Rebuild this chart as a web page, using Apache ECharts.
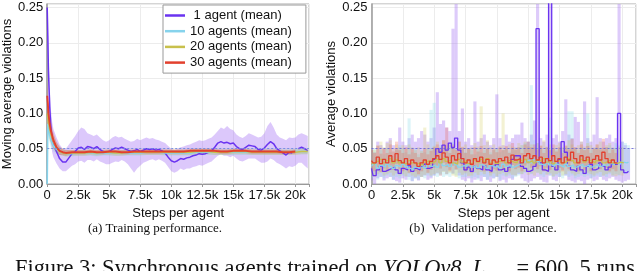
<!DOCTYPE html>
<html><head><meta charset="utf-8">
<script src="https://cdn.jsdelivr.net/npm/echarts@6/dist/echarts.min.js"></script>
<style>html,body{margin:0;padding:0;background:#fff}#c{width:640px;height:271px}</style>
</head><body><div id="c"></div>
<script>
// ---------- Legend / series names ----------
const seriesNames = ['1 agent (mean)', '10 agents (mean)', '20 agents (mean)', '30 agents (mean)'];

// ---------- (a) Training: 1 agent ----------
const tSteps1 = [0,50,100,200,300,400,500,
750,1000,1250,1500,1750,2000,2250,2500,2750,3000,
3250,3500,3750,4000,4250,4500,4750,5000,5250,5500,
5750,6000,6250,6500,6750,7000,7250,7500,7750,8000,
8250,8500,8750,9000,9250,9500,9750,10000,10250,10500,
10750,11000,11250,11500,11750,12000,12250,12500,12750,13000,
13250,13500,13750,14000,14250,14500,14750,15000,15250,15500,
15750,16000,16250,16500,16750,17000,17250,17500,17750,18000,
18250,18500,18750,19000,19250,19500,19750,20000,20250,20500,
20750,21000];
const tMean1 = [0.25,0.21,0.16,0.11,0.08,0.065,0.057,
0.046,0.036,0.031,0.031,0.037,0.043,0.046,0.051,0.052,0.049,
0.053,0.052,0.05,0.053,0.049,0.046,0.045,0.046,0.049,0.051,
0.05,0.052,0.05,0.048,0.046,0.047,0.049,0.046,0.048,0.05,
0.049,0.05,0.048,0.049,0.047,0.044,0.038,0.033,0.031,0.033,
0.036,0.035,0.037,0.038,0.04,0.041,0.043,0.042,0.043,0.045,
0.047,0.052,0.058,0.06,0.058,0.059,0.057,0.058,0.053,0.05,
0.049,0.052,0.055,0.054,0.053,0.049,0.048,0.051,0.056,0.06,
0.057,0.05,0.047,0.044,0.041,0.045,0.044,null,0.05,0.052,
0.05,0.047];
const tHi1 = [0.25,0.23,0.19,0.14,0.105,0.088,0.078,
0.066,0.056,0.05,0.05,0.056,0.062,0.068,0.075,0.08,0.078,
0.072,0.07,0.068,0.07,0.066,0.062,0.06,0.062,0.066,0.068,
0.066,0.067,0.064,0.062,0.06,0.061,0.064,0.062,0.064,0.066,
0.064,0.065,0.063,0.062,0.06,0.058,0.054,0.05,0.048,0.05,
0.052,0.053,0.055,0.056,0.058,0.06,0.062,0.061,0.062,0.064,
0.066,0.07,0.075,0.08,0.078,0.082,0.078,0.076,0.07,0.067,
0.065,0.068,0.072,0.07,0.068,0.066,0.067,0.072,0.082,0.088,
0.08,0.07,0.066,0.064,0.062,0.066,0.065,0.066,0.07,0.072,
0.07,0.068];
const tLo1 = [0.2,0.18,0.13,0.085,0.058,0.045,0.038,
0.029,0.022,0.018,0.018,0.022,0.026,0.028,0.032,0.033,0.03,
0.034,0.034,0.032,0.035,0.032,0.03,0.028,0.028,0.03,0.032,
0.031,0.034,0.032,0.028,0.022,0.016,0.022,0.026,0.03,0.032,
0.034,0.035,0.033,0.035,0.033,0.03,0.024,0.018,0.016,0.018,
0.022,0.02,0.022,0.022,0.024,0.025,0.027,0.026,0.028,0.03,
0.032,0.036,0.04,0.042,0.04,0.04,0.038,0.04,0.036,0.033,
0.032,0.034,0.036,0.036,0.036,0.033,0.03,0.03,0.032,0.036,
0.034,0.03,0.028,0.025,0.022,0.025,0.024,0.026,0.03,0.03,
0.026,0.022];

// ---------- (a) Training: 10 / 20 / 30 agents ----------
const tStepsB = [0,50,100,200,300,500,750,1000,1250,1500,
2000,2500,3000,3500,4000,4500,5000,5500,6000,6500,
7000,7500,8000,8500,9000,9500,10000,10500,11000,11500,
12000,12500,13000,13500,14000,14500,15000,15500,16000,16500,
17000,17500,18000,18500,19000,19500,20000,20500,21000];
const tMean10 = [0.0,0.085,0.08,0.07,0.062,0.054,0.049,0.046,0.044,0.043,
0.043,0.044,0.044,0.044,0.043,0.044,0.044,0.044,0.044,0.044,
0.044,0.044,0.045,0.045,0.045,0.044,0.044,0.044,0.044,0.044,
0.045,0.045,0.045,0.045,0.045,0.045,0.045,0.045,0.045,0.045,
0.045,0.045,0.045,0.045,0.045,0.045,0.046,0.046,0.046];
const tHi10 = [0.0,0.1,0.095,0.082,0.072,0.062,0.055,0.051,0.049,0.048,
0.047,0.048,0.048,0.048,0.047,0.048,0.048,0.048,0.048,0.048,
0.048,0.048,0.049,0.049,0.049,0.048,0.048,0.048,0.048,0.048,
0.049,0.049,0.049,0.049,0.049,0.049,0.049,0.049,0.049,0.049,
0.049,0.049,0.049,0.049,0.049,0.049,0.05,0.05,0.05];
const tLo10 = [0.0,0.07,0.066,0.058,0.052,0.046,0.043,0.041,0.04,0.039,
0.039,0.04,0.04,0.04,0.039,0.04,0.04,0.04,0.04,0.04,
0.04,0.04,0.041,0.041,0.041,0.04,0.04,0.04,0.04,0.04,
0.041,0.041,0.041,0.041,0.041,0.041,0.041,0.041,0.041,0.041,
0.041,0.041,0.041,0.041,0.041,0.041,0.042,0.042,0.042];
const tMean20 = [0.1,0.095,0.088,0.078,0.07,0.06,0.051,0.046,0.044,0.043,
0.044,0.044,0.044,0.045,0.044,0.045,0.045,0.044,0.044,0.045,
0.045,0.045,0.045,0.045,0.045,0.045,0.045,0.045,0.045,0.045,
0.046,0.046,0.046,0.045,0.045,0.045,0.046,0.046,0.046,0.045,
0.045,0.045,0.045,0.045,0.045,0.045,0.045,0.046,0.046];
const tHi20 = [0.125,0.118,0.108,0.094,0.083,0.07,0.059,0.052,0.049,0.048,
0.048,0.048,0.048,0.049,0.048,0.049,0.049,0.048,0.048,0.049,
0.049,0.049,0.049,0.049,0.049,0.049,0.049,0.049,0.049,0.049,
0.05,0.05,0.05,0.049,0.049,0.049,0.05,0.05,0.05,0.049,
0.049,0.049,0.049,0.049,0.049,0.049,0.049,0.05,0.05];
const tLo20 = [0.075,0.072,0.068,0.062,0.057,0.05,0.044,0.041,0.04,0.039,
0.04,0.04,0.04,0.041,0.04,0.041,0.041,0.04,0.04,0.041,
0.041,0.041,0.041,0.041,0.041,0.041,0.041,0.041,0.041,0.041,
0.042,0.042,0.042,0.041,0.041,0.041,0.042,0.042,0.042,0.041,
0.041,0.041,0.041,0.041,0.041,0.041,0.041,0.042,0.042];
const tMean30 = [0.125,0.115,0.1,0.085,0.075,0.062,0.052,0.047,0.045,0.044,
0.045,0.045,0.045,0.046,0.045,0.045,0.046,0.046,0.045,0.045,
0.046,0.046,0.046,0.046,0.046,0.046,0.046,0.046,0.046,0.047,
0.047,0.047,0.047,0.047,0.046,0.046,0.047,0.047,0.047,0.046,
0.046,0.046,0.046,0.046,0.045,0.045,0.046,null,null];
const tHi30 = [0.145,0.135,0.118,0.1,0.088,0.073,0.06,0.053,0.05,0.048,
0.048,0.048,0.048,0.049,0.048,0.048,0.049,0.049,0.048,0.048,
0.049,0.049,0.049,0.049,0.049,0.049,0.049,0.049,0.049,0.05,
0.05,0.05,0.05,0.05,0.049,0.049,0.05,0.05,0.05,0.049,
0.049,0.049,0.049,0.049,0.048,0.048,0.049,null,null];
const tLo30 = [0.1,0.092,0.082,0.07,0.062,0.051,0.044,0.041,0.041,0.04,
0.042,0.042,0.042,0.043,0.042,0.042,0.043,0.043,0.042,0.042,
0.043,0.043,0.043,0.043,0.043,0.043,0.043,0.043,0.043,0.044,
0.044,0.044,0.044,0.044,0.043,0.043,0.044,0.044,0.044,0.043,
0.043,0.043,0.043,0.043,0.042,0.042,0.043,null,null];

// ---------- (b) Validation ----------
const vSteps = [0,250,500,750,1000,1250,1500,1750,2000,2250,
2500,2750,3000,3250,3500,3750,4000,4250,4500,4750,
5000,5250,5500,5750,6000,6250,6500,6750,7000,7250,
7500,7750,8000,8250,8500,8750,9000,9250,9500,9750,
10000,10250,10500,10750,11000,11250,11500,11750,12000,12250,
12500,12750,13000,13250,13500,13750,14000,14250,14500,14750,
15000,15250,15500,15750,16000,16250,16500,16750,17000,17250,
17500,17750,18000,18250,18500,18750,19000,19250,19500,19750,
20000,20250,20500];
const vMean1 = [0.022,0.012,0.02,0.025,0.018,0.02,0.022,0.024,0.02,0.015,
0.022,0.02,0.026,0.018,0.022,0.02,0.025,0.028,0.022,0.024,
0.035,0.05,0.045,0.055,0.048,0.058,0.052,0.065,0.048,0.03,
0.02,0.024,0.018,0.025,0.022,0.02,0.026,0.02,0.018,0.025,
0.028,0.02,0.022,0.018,0.024,0.035,0.04,0.04,0.025,0.022,
0.018,0.02,0.025,0.22,0.03,0.02,0.018,0.4,0.025,0.02,
0.035,0.06,0.045,0.025,0.02,0.018,0.025,0.02,0.015,0.025,
0.028,0.02,0.022,0.03,0.025,0.02,0.024,0.028,0.028,0.1,
0.02,0.016,0.018];
const vHi1 = [0.05,0.045,0.06,0.055,0.05,0.06,0.065,0.055,0.05,0.08,
0.06,0.055,0.065,0.07,0.06,0.065,0.075,0.07,0.06,0.065,
0.08,0.13,0.085,0.09,0.08,0.075,0.22,0.4,0.075,0.107,
0.06,0.065,0.055,0.117,0.06,0.065,0.07,0.06,0.055,0.065,
0.127,0.065,0.055,0.07,0.06,0.065,0.07,0.07,0.087,0.065,
0.06,0.07,0.09,0.4,0.065,0.06,0.07,0.4,0.065,0.07,
0.06,0.075,0.12,0.07,0.065,0.095,0.088,0.06,0.117,0.065,
0.06,0.07,0.123,0.065,0.06,0.065,0.07,0.06,0.065,0.4,
0.06,0.055,0.05];
const vLo1 = [0.005,0.0,0.008,0.01,0.005,0.008,0.01,0.006,0.004,0.002,
0.008,0.006,0.01,0.004,0.008,0.005,0.01,0.012,0.006,0.008,
0.012,0.015,0.012,0.018,0.014,0.02,0.015,0.02,0.012,0.006,
0.004,0.008,0.002,0.006,0.008,0.004,0.01,0.006,0.003,0.008,
0.01,0.004,0.006,0.002,0.008,0.006,0.012,0.014,0.008,0.004,
0.002,0.004,0.008,0.01,0.006,0.003,0.002,0.012,0.006,0.004,
0.01,0.02,0.012,0.006,0.004,0.002,0.006,0.004,0.0,0.006,
0.008,0.004,0.006,0.01,0.006,0.004,0.008,0.01,0.006,0.004,
0.002,0.004,0.006];
const vMean10 = [0.025,0.028,0.022,0.026,0.024,0.028,0.025,0.022,0.026,0.024,
0.028,0.025,0.022,0.02,0.024,0.022,0.026,0.023,0.028,0.025,
0.027,0.024,0.03,0.026,0.028,0.025,0.03,0.027,0.024,0.026,
0.025,0.028,0.024,0.026,0.023,0.027,0.025,0.022,0.026,0.024,
0.026,0.023,0.028,0.025,0.027,0.024,0.026,0.028,0.03,0.032,
0.034,0.03,0.035,0.032,0.028,0.026,0.03,0.027,0.025,0.028,
0.026,0.024,0.028,0.025,0.027,0.024,0.026,0.028,0.025,0.027,
0.024,0.026,0.028,0.025,0.027,0.026,0.029,0.027,0.03,0.028,
0.031,0.03,0.031];
const vHi10 = [0.045,0.05,0.04,0.048,0.042,0.05,0.045,0.04,0.048,0.055,
0.05,0.045,0.093,0.045,0.05,0.042,0.048,0.045,0.05,0.105,
0.115,0.05,0.055,0.048,0.05,0.055,0.06,0.05,0.045,0.05,
0.045,0.05,0.048,0.042,0.05,0.045,0.048,0.05,0.045,0.048,
0.05,0.045,0.048,0.05,0.046,0.05,0.048,0.052,0.055,0.058,
0.06,0.14,0.062,0.058,0.05,0.048,0.052,0.094,0.05,0.048,
0.05,0.048,0.052,0.103,0.103,0.05,0.048,0.052,0.05,0.1,
0.048,0.05,0.052,0.05,0.048,0.052,0.055,0.05,0.058,0.055,
0.06,0.058,0.055];
const vLo10 = [0.008,0.012,0.006,0.01,0.008,0.012,0.01,0.006,0.01,0.008,
0.012,0.01,0.006,0.004,0.008,0.006,0.01,0.008,0.012,0.01,
0.012,0.01,0.014,0.01,0.012,0.01,0.014,0.012,0.008,0.01,
0.01,0.012,0.008,0.01,0.006,0.012,0.01,0.006,0.01,0.008,
0.01,0.006,0.012,0.01,0.012,0.008,0.01,0.012,0.014,0.016,
0.018,0.014,0.018,0.016,0.012,0.01,0.014,0.012,0.01,0.012,
0.01,0.008,0.012,0.01,0.012,0.008,0.01,0.012,0.01,0.012,
0.008,0.01,0.012,0.01,0.012,0.01,0.014,0.012,0.014,0.012,
0.016,0.014,0.016];
const vMean20 = [0.03,0.028,0.032,0.035,0.03,0.033,0.036,0.03,0.034,0.03,
0.032,0.029,0.033,0.03,0.028,0.03,0.027,0.031,0.033,0.03,
0.032,0.035,0.03,0.036,0.032,0.034,0.03,0.028,0.035,0.031,
0.033,0.029,0.03,0.034,0.031,0.035,0.032,0.036,0.03,0.033,
0.029,0.032,0.034,0.03,0.033,0.031,0.03,0.034,0.032,0.035,
0.031,0.033,0.03,0.034,0.032,0.036,0.031,0.033,0.029,0.032,
0.034,0.03,0.032,0.036,0.033,0.03,0.032,0.035,0.031,0.034,
0.032,0.03,0.033,0.035,0.03,0.032,0.034,0.03,0.029,0.031,
0.03,null,null];
const vHi20 = [0.05,0.048,0.055,0.06,0.052,0.058,0.062,0.05,0.056,0.052,
0.055,0.05,0.056,0.052,0.048,0.052,0.047,0.08,0.056,0.05,
0.054,0.06,0.052,0.062,0.055,0.058,0.052,0.048,0.06,0.053,
0.056,0.05,0.052,0.058,0.053,0.11,0.055,0.062,0.052,0.056,
0.05,0.054,0.1,0.052,0.056,0.053,0.052,0.058,0.055,0.06,
0.053,0.056,0.052,0.058,0.055,0.062,0.053,0.056,0.05,0.055,
0.058,0.052,0.055,0.062,0.056,0.052,0.055,0.06,0.053,0.058,
0.055,0.052,0.056,0.06,0.052,0.055,0.058,0.052,0.05,0.053,
0.052,null,null];
const vLo20 = [0.012,0.01,0.014,0.016,0.012,0.014,0.016,0.012,0.015,0.012,
0.014,0.011,0.015,0.012,0.01,0.012,0.01,0.013,0.015,0.012,
0.014,0.016,0.012,0.017,0.014,0.016,0.012,0.01,0.016,0.013,
0.015,0.011,0.012,0.016,0.013,0.017,0.014,0.018,0.012,0.015,
0.011,0.014,0.016,0.012,0.015,0.013,0.012,0.016,0.014,0.017,
0.013,0.015,0.012,0.016,0.014,0.018,0.013,0.015,0.011,0.014,
0.016,0.012,0.014,0.018,0.015,0.012,0.014,0.017,0.013,0.016,
0.014,0.012,0.015,0.017,0.012,0.014,0.016,0.012,0.011,0.013,
0.012,null,null];
const vMean30 = [0.033,0.03,0.038,0.029,0.035,0.03,0.04,0.032,0.043,0.033,
0.03,0.036,0.028,0.034,0.03,0.025,0.03,0.034,0.028,0.032,
0.036,0.04,0.035,0.044,0.038,0.03,0.04,0.034,0.043,0.036,
0.03,0.034,0.028,0.036,0.032,0.038,0.03,0.035,0.028,0.034,
0.031,0.036,0.033,0.038,0.03,0.041,0.034,0.036,0.03,0.04,
0.043,0.036,0.04,0.034,0.038,0.03,0.036,0.033,0.04,0.032,
0.036,0.03,0.038,0.034,0.045,0.036,0.03,0.04,0.033,0.038,
0.03,0.035,0.04,0.034,0.045,0.036,0.03,0.034,0.03,null,
null,null,null];
const vHi30 = [0.048,0.044,0.054,0.043,0.05,0.044,0.056,0.046,0.06,0.048,
0.044,0.052,0.042,0.05,0.044,0.038,0.044,0.05,0.042,0.047,
0.052,0.056,0.05,0.062,0.08,0.044,0.056,0.049,0.06,0.052,
0.044,0.05,0.042,0.052,0.046,0.054,0.044,0.05,0.042,0.049,
0.045,0.052,0.048,0.054,0.044,0.058,0.049,0.052,0.044,0.056,
0.06,0.052,0.056,0.049,0.054,0.044,0.052,0.048,0.056,0.046,
0.052,0.044,0.054,0.049,0.064,0.052,0.044,0.056,0.048,0.054,
0.044,0.05,0.056,0.049,0.064,0.052,0.044,0.049,0.044,null,
null,null,null];
const vLo30 = [0.02,0.018,0.024,0.017,0.022,0.018,0.026,0.02,0.028,0.021,
0.018,0.023,0.016,0.022,0.018,0.014,0.018,0.022,0.016,0.02,
0.023,0.026,0.022,0.03,0.024,0.018,0.026,0.021,0.029,0.023,
0.018,0.021,0.016,0.023,0.02,0.025,0.018,0.022,0.016,0.021,
0.019,0.023,0.02,0.025,0.018,0.027,0.021,0.023,0.018,0.026,
0.029,0.023,0.026,0.021,0.025,0.018,0.023,0.02,0.026,0.019,
0.023,0.018,0.025,0.021,0.031,0.023,0.018,0.026,0.02,0.025,
0.018,0.022,0.026,0.021,0.031,0.023,0.018,0.021,0.018,null,
null,null,null];

const refLevel = 0.05;

// ---------- styling ----------
const lineColors = ['#6a33f0', '#86d3ec', '#c8c04c', '#e2402e'];
const trainBand = ['rgba(168,118,245,0.40)', 'rgba(134,211,236,0.30)', 'rgba(200,192,76,0.30)', 'rgba(226,64,46,0.25)'];
const valBand = ['rgba(160,110,240,0.36)', 'rgba(130,215,230,0.28)', 'rgba(205,195,70,0.24)', 'rgba(230,90,70,0.26)'];
const FONT = 'Liberation Sans';
const SERIF = 'Liberation Serif';

const pairs = (xs, ys) => xs.map((x, i) => [x, ys[i]]);

function bandRender(xs, lo, hi, color) {
  return function (params, api) {
    if (params.dataIndex !== 0) return null;
    const polys = [];
    let up = [], dn = [];
    for (let i = 0; i < xs.length; i++) {
      if (lo[i] == null || hi[i] == null) {
        if (up.length) polys.push(up.concat(dn.slice().reverse()));
        up = []; dn = [];
        continue;
      }
      up.push(api.coord([xs[i], hi[i]]));
      dn.push(api.coord([xs[i], lo[i]]));
    }
    if (up.length) polys.push(up.concat(dn.slice().reverse()));
    return { type: 'group', children: polys.map(p => ({ type: 'polygon', shape: { points: p }, style: { fill: color } })) };
  };
}
function binRender(color) {
  return function (params, api) {
    const x = api.value(0), lo = api.value(1), hi = api.value(2);
    if (isNaN(lo) || isNaN(hi)) return null;
    const a = api.coord([x - 125, hi]);
    const b = api.coord([x + 125, lo]);
    const cs = params.coordSys;
    const r = echarts.graphic.clipRectByRect(
      { x: a[0], y: a[1], width: b[0] - a[0], height: b[1] - a[1] },
      { x: cs.x, y: cs.y, width: cs.width, height: cs.height });
    return r && { type: 'rect', shape: r, style: { fill: color } };
  };
}

function xAxis(gi) {
  return {
    gridIndex: gi, type: 'value', min: 0, max: 21100, interval: 2500,
    axisLine: { show: true, onZero: false, lineStyle: { color: '#999', width: 1 } },
    axisTick: { show: true, length: 3, lineStyle: { color: '#999' } },
    splitLine: { show: true, lineStyle: { color: '#ececec', width: 1 } },
    axisLabel: { fontSize: 13, color: '#111', fontFamily: FONT, margin: 5,
      formatter: v => (Math.round(v) % 2500 !== 0) ? '' : (v === 0 ? '0' : (v / 1000) + 'k') },
    name: 'Steps per agent', nameLocation: 'middle', nameGap: 20,
    nameTextStyle: { fontSize: 13, color: '#111', fontFamily: FONT }
  };
}
function yAxis(gi, name, gap) {
  return {
    gridIndex: gi, type: 'value', min: 0, max: 0.255, interval: 0.05,
    axisLine: { show: true, lineStyle: { color: '#999', width: 1.5 } },
    axisTick: { show: false },
    splitLine: { show: true, lineStyle: { color: '#ececec', width: 1 } },
    axisLabel: { fontSize: 13, color: '#111', fontFamily: FONT, margin: 4,
      formatter: v => (Math.round(v * 1000) % 50 !== 0) ? '' : v.toFixed(2) },
    name: name, nameLocation: 'middle', nameGap: gap,
    nameTextStyle: { fontSize: 13, color: '#111', fontFamily: FONT }
  };
}

const series = [];
// training bands
const tBands = [[tSteps1, tLo1, tHi1], [tStepsB, tLo10, tHi10], [tStepsB, tLo20, tHi20], [tStepsB, tLo30, tHi30]];
tBands.forEach((b, k) => {
  series.push({ type: 'custom', name: 'tband' + k, xAxisIndex: 0, yAxisIndex: 0, silent: true,
    data: [[0, 0]], encode: { x: 0, y: 1 }, renderItem: bandRender(b[0], b[1], b[2], trainBand[k]), z: 1 });
});
// validation bands
const vBands = [[vLo1, vHi1], [vLo10, vHi10], [vLo20, vHi20], [vLo30, vHi30]];
vBands.forEach((b, k) => {
  series.push({ type: 'custom', name: 'vband' + k, xAxisIndex: 1, yAxisIndex: 1, silent: true,
    data: vSteps.map((s, i) => [s, b[0][i], b[1][i]]), encode: { x: 0, y: [1, 2] },
    renderItem: binRender(valBand[k]), z: 1 });
});
// training mean lines
const tLines = [[tSteps1, tMean1, 1.5], [tStepsB, tMean10, 1.6], [tStepsB, tMean20, 1.6], [tStepsB, tMean30, 1.9]];
tLines.forEach((l, k) => {
  const s = { type: 'line', name: seriesNames[k], xAxisIndex: 0, yAxisIndex: 0, data: pairs(l[0], l[1]),
    showSymbol: false, symbol: 'none', connectNulls: false,
    lineStyle: { color: lineColors[k], width: l[2] }, itemStyle: { color: lineColors[k] }, z: 3 };
  if (k === 3) s.markLine = { silent: true, symbol: 'none', label: { show: false },
    lineStyle: { color: 'rgba(110,140,225,0.9)', type: [2, 2], width: 1 }, data: [{ yAxis: refLevel }] };
  series.push(s);
});
// validation step lines
const vLines = [vMean1, vMean10, vMean20, vMean30];
vLines.forEach((l, k) => {
  const s = { type: 'line', name: seriesNames[k], xAxisIndex: 1, yAxisIndex: 1, data: pairs(vSteps, l),
    step: 'middle', showSymbol: false, symbol: 'none', connectNulls: false,
    lineStyle: { color: lineColors[k], width: 1.3 }, itemStyle: { color: lineColors[k] }, z: 3 };
  if (k === 3) s.markLine = { silent: true, symbol: 'none', label: { show: false },
    lineStyle: { color: 'rgba(100,100,220,0.85)', type: [2, 2], width: 1 }, data: [{ yAxis: refLevel }] };
  series.push(s);
});

const chart = echarts.init(document.getElementById('c'), null, { renderer: 'canvas', width: 640, height: 271 });
chart.setOption({
  animation: false,
  backgroundColor: '#fff',
  textStyle: { fontFamily: FONT },
  grid: [
    { left: 44, top: 4, width: 265, height: 180, show: true, borderColor: '#aaa', borderWidth: 1, backgroundColor: 'transparent' },
    { left: 371.5, top: 4, width: 264.5, height: 180, show: true, borderColor: '#aaa', borderWidth: 1, backgroundColor: 'transparent' }
  ],
  xAxis: [xAxis(0), xAxis(1)],
  yAxis: [yAxis(0, 'Moving average violations', 30), yAxis(1, 'Average violations', 33)],
  legend: {
    data: seriesNames, orient: 'vertical', left: 163, top: 5,
    icon: 'rect', itemWidth: 20, itemHeight: 2.5, itemGap: 2.7,
    padding: [4, 14, 4, 2], backgroundColor: '#fff', borderColor: '#999', borderWidth: 1, borderRadius: 0,
    formatter: n => (n === seriesNames[0] ? ' ' + n : n),
    textStyle: { fontSize: 13, color: '#111', fontFamily: FONT, lineHeight: 13 },
    selectedMode: false
  },
  graphic: [
    { type: 'text', x: 155, y: 229, silent: true,
      style: { text: '(a) Training performance.', font: '13px "' + SERIF + '"', fill: '#111', align: 'center', verticalAlign: 'middle' } },
    { type: 'text', x: 483, y: 229, silent: true,
      style: { text: '(b)  Validation performance.', font: '13px "' + SERIF + '"', fill: '#111', align: 'center', verticalAlign: 'middle' } },
    { type: 'text', x: 15, y: 269, silent: true,
      style: { text: 'Figure 3: Synchronous agents trained on {i|YOLOv8}, {i|L}{s|max} = 600, 5 runs',
        font: '22.4px "' + SERIF + '"', fill: '#111', align: 'left', verticalAlign: 'middle',
        rich: { i: { fontStyle: 'italic', fontSize: 22.4, fontFamily: SERIF },
                s: { fontSize: 15, fontFamily: SERIF, padding: [12, 0, 0, 0] } } } }
  ],
  series: series
});
</script>
</body></html>
